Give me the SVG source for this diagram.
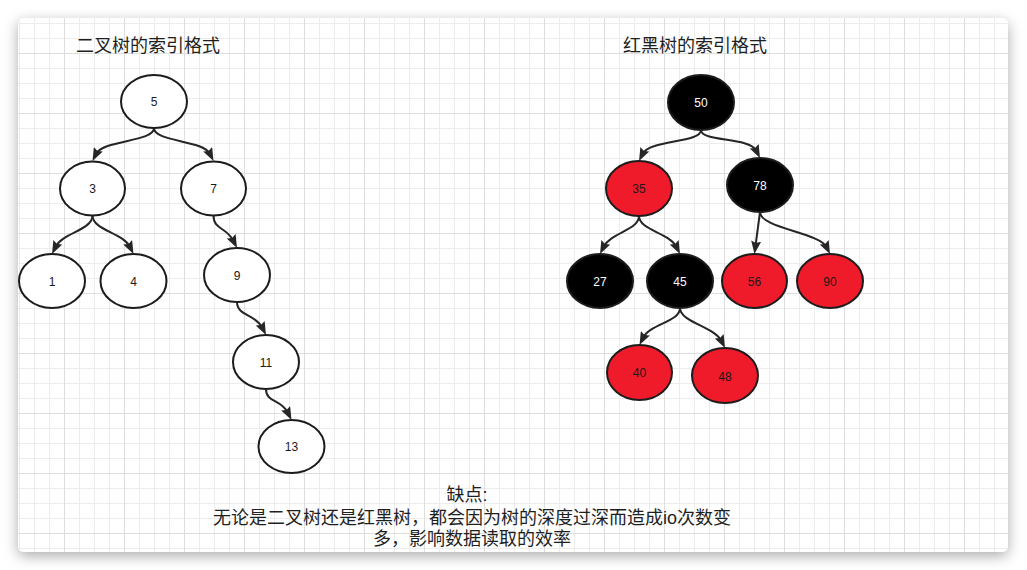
<svg xmlns="http://www.w3.org/2000/svg" width="1027" height="570" viewBox="0 0 1027 570">
  <defs>
    <style>
      .node ellipse { stroke: #1c1c1c; stroke-width: 2; }
      .white ellipse { fill: #ffffff; }
      .black ellipse { fill: #000000; }
      .red ellipse { fill: #ef1b2b; }
      .node text { font-family: "Liberation Sans", Arial, sans-serif; font-size: 12px; text-anchor: middle; }
      .white text, .red text { fill: #1a1a1a; }
      .black text { fill: #ffffff; }
      .edges path { fill: none; stroke: #262626; stroke-width: 2; marker-end: url(#arrow); }
      .title { font-family: "Liberation Sans", "Noto Sans CJK SC", sans-serif; font-size: 18px; fill: #1f1f1f; text-anchor: middle; }
      .note { font-family: "Liberation Sans", "Noto Sans CJK SC", sans-serif; font-size: 18px; fill: #1f1f1f; text-anchor: middle; }
    </style>
    <marker id="arrow" markerUnits="userSpaceOnUse" markerWidth="13" markerHeight="10" refX="5" refY="5" orient="auto" viewBox="0 0 13 10">
      <path d="M0,0 L13,5 L0,10 L2,5 Z" fill="#262626"/>
    </marker>
    <pattern id="grid" patternUnits="userSpaceOnUse" x="4" y="-7" width="60" height="60">
      <rect x="15" y="0" width="1" height="60" fill="#ececec"/>
      <rect x="30" y="0" width="1" height="60" fill="#ececec"/>
      <rect x="45" y="0" width="1" height="60" fill="#ececec"/>
      <rect x="0" y="15" width="60" height="1" fill="#ececec"/>
      <rect x="0" y="30" width="60" height="1" fill="#ececec"/>
      <rect x="0" y="45" width="60" height="1" fill="#ececec"/>
      <rect x="0" y="0" width="1" height="60" fill="#dedede"/>
      <rect x="0" y="0" width="60" height="1" fill="#dedede"/>
    </pattern>
    <filter id="shadow" x="-10%" y="-10%" width="120%" height="125%">
      <feDropShadow dx="0" dy="4" stdDeviation="7" flood-color="#000000" flood-opacity="0.33"/>
    </filter>
    <clipPath id="frameClip">
      <rect x="18" y="18" width="990" height="534" rx="6"/>
    </clipPath>
  </defs>

  <rect x="0" y="0" width="1027" height="570" fill="#ffffff"/>
  <rect x="18" y="18" width="990" height="534" rx="6" fill="#ffffff" filter="url(#shadow)"/>
  <rect x="18" y="18" width="990" height="534" fill="url(#grid)" clip-path="url(#frameClip)"/>

  <text class="title" x="148" y="52">二叉树的索引格式</text>
  <text class="title" x="695" y="52">红黑树的索引格式</text>

  <g id="connectors" class="edges">
    <path d="M154,128 C154,142 103.1,139.8 96.1,153.8"/>
    <path d="M154,128 C154,142 202.9,139.8 209.9,153.8"/>
    <path d="M92.5,215.5 C92.5,230 62.6,232.8 55.6,246.8"/>
    <path d="M92.5,215.5 C92.5,230 122.9,232.8 129.9,246.8"/>
    <path d="M213.5,215.5 C213.5,230 226.4,226.8 233.4,240.8"/>
    <path d="M237,302 C237,316 255.4,313.8 262.4,327.8"/>
    <path d="M266,389 C266,403 280.9,398.8 287.9,412.8"/>
    <path d="M701,130 C701,143 649.6,139.8 642.6,153.8"/>
    <path d="M701,130 C701,142 749.4,136.8 756.4,150.8"/>
    <path d="M639,216 C639,230 610.6,232.8 603.6,246.8"/>
    <path d="M639,216 C639,230 669.4,232.8 676.4,246.8"/>
    <path d="M760,212 L755.5,246"/>
    <path d="M760,212 C760,228 819.4,232.8 826.4,246.8"/>
    <path d="M680,308 C680,322 650.1,323.8 643.1,337.8"/>
    <path d="M680,308 C680,322 714.4,326.8 721.4,340.8"/>
  </g>

  <g id="node-5" class="node white"><ellipse cx="154" cy="101.5" rx="33" ry="26.5"/><text x="154" y="106">5</text></g>
  <g id="node-3" class="node white"><ellipse cx="92.5" cy="188.5" rx="32.5" ry="27"/><text x="92.5" y="193">3</text></g>
  <g id="node-7" class="node white"><ellipse cx="213.5" cy="188.5" rx="32.5" ry="27"/><text x="213.5" y="193">7</text></g>
  <g id="node-1" class="node white"><ellipse cx="52" cy="281" rx="33" ry="27"/><text x="52" y="286">1</text></g>
  <g id="node-4" class="node white"><ellipse cx="133.5" cy="281" rx="33" ry="27"/><text x="133.5" y="286">4</text></g>
  <g id="node-9" class="node white"><ellipse cx="237" cy="275" rx="33" ry="27"/><text x="237" y="280">9</text></g>
  <g id="node-11" class="node white"><ellipse cx="266" cy="362" rx="33" ry="27"/><text x="266" y="367">11</text></g>
  <g id="node-13" class="node white"><ellipse cx="291.5" cy="446.5" rx="33" ry="26.5"/><text x="291.5" y="451">13</text></g>

  <g id="node-50" class="node black"><ellipse cx="701" cy="102.5" rx="33" ry="27.5"/><text x="701" y="107">50</text></g>
  <g id="node-35" class="node red"><ellipse cx="639" cy="188.5" rx="33" ry="27.5"/><text x="639" y="193">35</text></g>
  <g id="node-78" class="node black"><ellipse cx="760" cy="185" rx="33" ry="27"/><text x="760" y="190">78</text></g>
  <g id="node-27" class="node black"><ellipse cx="600" cy="281" rx="33" ry="27"/><text x="600" y="286">27</text></g>
  <g id="node-45" class="node black"><ellipse cx="680" cy="281" rx="33" ry="27"/><text x="680" y="286">45</text></g>
  <g id="node-56" class="node red"><ellipse cx="754.5" cy="281" rx="32.5" ry="27"/><text x="754.5" y="286">56</text></g>
  <g id="node-90" class="node red"><ellipse cx="830" cy="281" rx="33" ry="27"/><text x="830" y="286">90</text></g>
  <g id="node-40" class="node red"><ellipse cx="639.5" cy="372.5" rx="32.5" ry="27.5"/><text x="639.5" y="377">40</text></g>
  <g id="node-48" class="node red"><ellipse cx="725" cy="375.5" rx="33" ry="27.5"/><text x="725" y="381">48</text></g>

  <g id="note">
    <text class="note" x="467" y="501">缺点:</text>
    <text class="note" x="472" y="524">无论是二叉树还是红黑树，都会因为树的深度过深而造成io次数变</text>
    <text class="note" x="472" y="545">多，影响数据读取的效率</text>
  </g>
</svg>
